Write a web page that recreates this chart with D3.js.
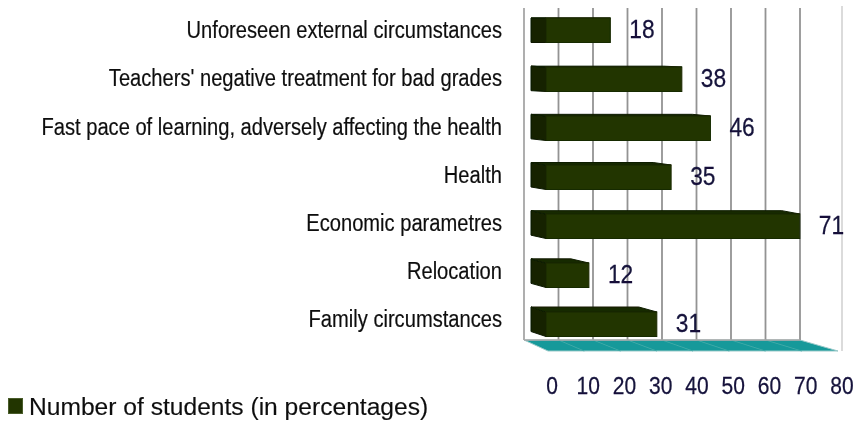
<!DOCTYPE html>
<html lang="en">
<head>
<meta charset="utf-8">
<script src="https://d3js.org/d3.v7.min.js"></script>
<style>
  html, body { margin: 0; padding: 0; background: #fff; }
  text { font-family: "Liberation Sans", Arial, sans-serif; }
</style>
</head>
<body>
<script>
const categories = ["Unforeseen external circumstances", "Teachers' negative treatment for bad grades",
  "Fast pace of learning, adversely affecting the health", "Health", "Economic parametres", "Relocation", "Family circumstances"];
const values = [18, 38, 46, 35, 71, 12, 31];
const ticks = [0, 10, 20, 30, 40, 50, 60, 70, 80];
const legendLabel = "Number of students (in percentages)";

const width = 859, height = 423;
const svg = d3.select("body").append("svg").attr("width", width).attr("height", height)
  .style("display", "block");

// soft look of the scanned original
const defs = svg.append("defs");
defs.append("filter").attr("id", "soft").append("feGaussianBlur").attr("stdDeviation", 0.45);

const backX = d3.scaleLinear().domain([0, 80]).range([524, 800]);
const frontX = d3.scaleLinear().domain([0, 80]).range([546, 832]);
const y = d3.scaleBand().domain(categories).range([5.75, 348.75]).paddingInner(0.5).paddingOuter(0.25);
const tickX = d3.scalePoint().domain(ticks).range([552, 842]);
const floorX = d3.scaleLinear().domain([0, 80]).range([548, 838]);

const chart = svg.append("g").attr("filter", "url(#soft)");

// floor
chart.append("path")
  .attr("d", d3.line()([[backX(0), 340], [backX(80), 340], [floorX(80), 351], [floorX(0), 351]]) + "Z")
  .attr("fill", "#12999a").attr("stroke", "#9cc9c9").attr("stroke-width", 1);
chart.selectAll("line.floor").data(ticks.slice(1, -1)).join("line")
  .attr("class", "floor")
  .attr("x1", d => backX(d)).attr("x2", d => floorX(d))
  .attr("y1", 340).attr("y2", 351)
  .attr("stroke", "#3fa9a7").attr("stroke-width", 1);

// back wall grid
chart.selectAll("line.grid").data(ticks).join("line")
  .attr("class", "grid")
  .attr("x1", d => backX(d)).attr("x2", d => backX(d))
  .attr("y1", 8).attr("y2", 340)
  .attr("stroke", d => d === 0 ? "#a6a6a6" : "#939393").attr("stroke-width", 1.8);
chart.append("line").attr("x1", backX(0)).attr("x2", backX(80)).attr("y1", 340).attr("y2", 340)
  .attr("stroke", "#a8a8a8").attr("stroke-width", 1.4);
chart.append("line").attr("x1", 842).attr("x2", 842).attr("y1", 6).attr("y2", 351)
  .attr("stroke", "#d2d2d2").attr("stroke-width", 1.6);

// bars: side, top, front; the tilt grows toward the bottom of the chart
const tilt = d3.scaleLinear().domain([0, categories.length - 1]).range([0, 5]);
const bars = chart.selectAll("g.bar").data(categories).join("g").attr("class", "bar");
const sideX = 531;
bars.append("path")
  .attr("d", (d, i) => {
    const t = tilt(i), top = y(d), bot = top + y.bandwidth();
    return d3.line()([[sideX, top - t], [frontX(0), top], [frontX(0), bot], [sideX, bot - t]]) + "Z";
  })
  .attr("fill", "#132200").attr("stroke", "#0d1900").attr("stroke-width", 1);
bars.append("path")
  .attr("d", (d, i) => {
    const t = tilt(i), top = y(d), end = frontX(values[i]);
    return d3.line()([[sideX, top - t], [end - 18, top - t], [end, top], [frontX(0), top]]) + "Z";
  })
  .attr("fill", "#182900").attr("stroke", "#101d00").attr("stroke-width", 1);
bars.append("rect")
  .attr("x", frontX(0)).attr("y", d => y(d))
  .attr("width", (d, i) => frontX(values[i]) - frontX(0)).attr("height", y.bandwidth())
  .attr("fill", "#223600").attr("stroke", "#182900").attr("stroke-width", 1);

const scaleH = 0.875;
const texts = svg.append("g").attr("filter", "url(#soft)");

// category labels, narrowed like the original
texts.selectAll("text.cat").data(categories).join("text")
  .attr("class", "cat")
  .attr("transform", (d, i) => `translate(502,${y(d) + y.bandwidth() / 2 - tilt(i) + 2}) scale(${scaleH},1)`)
  .attr("text-anchor", "end").attr("dominant-baseline", "middle")
  .attr("font-size", 23).attr("fill", "#111").attr("stroke", "#111").attr("stroke-width", 0.2).text(d => d);

// value labels
texts.selectAll("text.val").data(values).join("text")
  .attr("class", "val")
  .attr("transform", (d, i) => `translate(${frontX(d) + 19},${y(categories[i]) + y.bandwidth() / 2 + 1}) scale(${scaleH},1)`)
  .attr("dominant-baseline", "middle")
  .attr("font-size", 26).attr("fill", "#14123a").attr("stroke", "#14123a").attr("stroke-width", 0.25).text(d => d);

// x axis tick labels
texts.selectAll("text.tick").data(ticks).join("text")
  .attr("class", "tick")
  .attr("transform", d => `translate(${tickX(d)},388) scale(${scaleH},1)`)
  .attr("text-anchor", "middle").attr("dominant-baseline", "middle")
  .attr("font-size", 24).attr("fill", "#14123a").attr("stroke", "#14123a").attr("stroke-width", 0.25).text(d => d);

// legend
const legend = svg.append("g").attr("filter", "url(#soft)");
legend.append("rect").attr("x", 8.5).attr("y", 398.5).attr("width", 14).attr("height", 15)
  .attr("fill", "#223600").attr("stroke", "#4a5c2a");
legend.append("text").attr("x", 29).attr("y", 415)
  .attr("font-size", 24.6).attr("fill", "#111").attr("stroke", "#111").attr("stroke-width", 0.15).text(legendLabel);
</script>
</body>
</html>
